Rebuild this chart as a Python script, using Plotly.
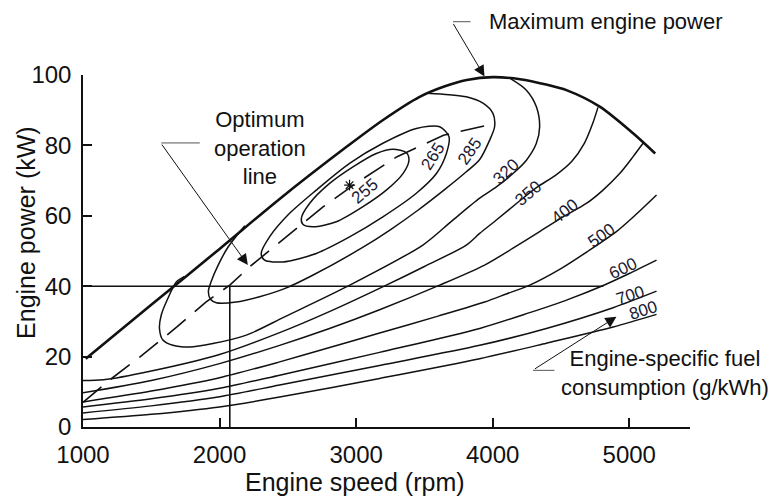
import plotly.graph_objects as go

# ---------------- data (engine speed in rpm, engine power in kW) ----------------
mp_rpm = [1020, 1500, 2000, 2440, 2930, 3200, 3465, 3650, 3810, 4000, 4200, 4400, 4540, 4784, 5026, 5190]
mp_kw = [19.4, 34.7, 50.6, 64.8, 79.6, 87.3, 93.8, 96.8, 98.6, 99.4, 98.8, 97.2, 95.7, 91.0, 83.5, 77.7]

c255_rpm = [2599, 2659, 2806, 2977, 3148, 3270, 3368, 3387, 3343, 3221, 3050, 2855, 2684, 2610, 2599]
c255_kw = [59.3, 63.5, 69.2, 73.9, 77.7, 78.9, 77.9, 75.8, 72.0, 67.3, 62.6, 58.3, 56.9, 57.6, 59.3]

c265_rpm = [2305, 2366, 2513, 2708, 2952, 3196, 3441, 3612, 3680, 3661, 3588, 3441, 3196, 2952, 2708, 2464, 2330, 2305]
c265_kw = [49.3, 54.0, 60.7, 67.3, 74.9, 80.6, 84.8, 85.3, 82.5, 77.7, 72.0, 66.4, 59.7, 54.0, 49.3, 46.9, 47.4, 49.3]

c285_rpm = [2185, 2130, 2060, 1990, 1940, 1918, 1935, 1976, 2122, 2293, 2476, 2682, 3048, 3250, 3450, 3650, 3807, 3905, 3978, 4014, 4002, 3929, 3807, 3680, 3520]
c285_kw = [57.2, 54.6, 51.0, 46.0, 41.5, 38.5, 36.2, 35.3, 35.5, 37.0, 39.3, 43.1, 51.0, 56.0, 61.5, 67.5, 72.5, 76.0, 81.5, 85.3, 89.1, 92.0, 93.8, 94.4, 94.8]

c320_rpm = [1743, 1683, 1621, 1573, 1560, 1585, 1658, 1780, 1951, 2196, 2476, 2928, 3489, 3700, 3905, 4027, 4149, 4247, 4320, 4344, 4320, 4247, 4125]
c320_kw = [42.8, 41.2, 36.5, 31.8, 28.0, 24.7, 23.2, 22.7, 23.7, 26.1, 31.3, 39.8, 51.7, 58.5, 65.0, 68.2, 72.0, 75.8, 80.6, 85.3, 91.0, 95.7, 99.1]

c350_rpm = [1000, 1150, 1500, 2000, 2440, 2800, 3221, 3500, 3807, 3905, 4027, 4174, 4320, 4460, 4580, 4670, 4735, 4771]
c350_kw = [13.2, 13.4, 15.9, 20.6, 26.8, 32.7, 40.3, 45.6, 51.7, 55.0, 58.8, 63.5, 68.0, 71.5, 75.5, 80.5, 86.5, 90.8]

c400_rpm = [1000, 1500, 2000, 2440, 2800, 3172, 3612, 3941, 4149, 4344, 4515, 4686, 4808, 4930, 5028, 5101]
c400_kw = [9.7, 13.2, 18.0, 23.2, 27.9, 33.3, 40.3, 46.0, 50.8, 55.5, 59.7, 63.5, 67.3, 72.0, 76.8, 80.6]

c500_rpm = [1000, 1500, 2000, 2440, 2800, 3172, 3600, 3941, 4100, 4271, 4500, 4700, 4906, 5053, 5200]
c500_kw = [7.1, 10.2, 14.0, 18.5, 22.5, 26.7, 31.5, 35.5, 37.8, 40.3, 45.0, 50.0, 55.5, 60.5, 65.9]

c600_rpm = [1000, 1500, 2000, 2440, 3172, 3905, 4271, 4550, 4810, 5000, 5200]
c600_kw = [5.7, 8.0, 11.0, 14.7, 21.2, 28.0, 32.5, 36.2, 40.2, 43.6, 47.4]

c700_rpm = [1000, 1500, 2000, 2440, 3172, 3905, 4393, 4882, 5200]
c700_kw = [4.0, 6.0, 8.6, 11.9, 17.5, 23.2, 28.0, 33.9, 38.6]

c800_rpm = [1000, 1500, 2000, 2440, 3172, 3905, 4393, 4882, 5200]
c800_kw = [2.1, 3.6, 5.7, 8.5, 13.8, 19.4, 23.8, 28.4, 32.0]

opt_rpm = [1000, 1200, 1420, 1690, 1900, 2075, 2220, 2490, 2760, 2990, 3300, 3640, 3970]
opt_kw = [7.0, 13.5, 20.0, 28.5, 35.5, 40.3, 45.5, 54.0, 62.6, 69.0, 76.8, 82.9, 85.8]

best_rpm = [2952]
best_kw = [68.7]

ref_speed = 2075
ref_power = 40
ref_speed_end = 4810

label_text = ["255", "265", "285", "320", "350", "400", "500", "600", "700", "800"]
label_rpm = [3062, 3563, 3832, 4100, 4259, 4528, 4796, 4955, 5004, 5101]
label_kw = [66.8, 76.8, 78.2, 72.5, 66.4, 61.1, 54.5, 45.0, 37.4, 33.2]
label_angle = [-40, -58, -55, -43, -40, -38, -35, -25, -18, -18]

x_ticks = [1000, 2000, 3000, 4000, 5000]
y_ticks = [0, 20, 40, 60, 80, 100]

FONT = "Liberation Sans, Arial, Helvetica, sans-serif"
INK = "#111111"

fig = go.Figure()


def add_curve(x, y, width=1.5, shape="spline"):
    fig.add_trace(go.Scatter(
        x=x, y=y, mode="lines",
        line=dict(color=INK, width=width, shape=shape, smoothing=0.8 if shape == "spline" else None),
        hoverinfo="skip", showlegend=False))


for xs, ys in [(c255_rpm, c255_kw), (c265_rpm, c265_kw), (c285_rpm, c285_kw),
               (c320_rpm, c320_kw), (c350_rpm, c350_kw), (c400_rpm, c400_kw),
               (c500_rpm, c500_kw), (c600_rpm, c600_kw), (c700_rpm, c700_kw),
               (c800_rpm, c800_kw)]:
    add_curve(xs, ys)

add_curve(mp_rpm, mp_kw, width=2.6)

# reference lines
add_curve([1000, ref_speed_end], [ref_power, ref_power], width=1.6, shape="linear")
add_curve([ref_speed, ref_speed], [0, ref_power], width=1.6, shape="linear")

# optimum operation line (dashed)
fig.add_trace(go.Scatter(
    x=opt_rpm, y=opt_kw, mode="lines",
    line=dict(color=INK, width=1.6, dash="24px,12px"),
    hoverinfo="skip", showlegend=False))

fig.add_trace(go.Scatter(
    x=best_rpm, y=best_kw, mode="markers",
    marker=dict(symbol="asterisk-open", size=9, color=INK, line=dict(color=INK, width=1.2)),
    hoverinfo="skip", showlegend=False))

annotations = []
for t, xv, yv, a in zip(label_text, label_rpm, label_kw, label_angle):
    annotations.append(dict(x=xv, y=yv, xref="x", yref="y", text=t, showarrow=False,
                            textangle=a, font=dict(family=FONT, size=17, color="#1a1a33")))

LEAD = "#555555"
# Maximum engine power
annotations.append(dict(x=0.6656, y=1.1514, xref="paper", yref="paper", text="Maximum engine power",
                        xanchor="left", yanchor="middle", showarrow=False,
                        font=dict(family=FONT, size=22, color=INK)))
annotations.append(dict(x=3940, y=99.6, xref="x", yref="y", text="", showarrow=True,
                        ax=-32, ay=-54, arrowhead=2, arrowsize=2.2, arrowwidth=1, arrowcolor=INK,
                        standoff=0))
annotations.append(dict(x=0.6096, y=1.1514, xref="paper", yref="paper", text="", showarrow=True,
                        ax=19, ay=0, arrowhead=0, arrowwidth=1, arrowcolor=LEAD))
# Optimum operation line
annotations.append(dict(x=0.2916, y=0.7932, xref="paper", yref="paper",
                        text="Optimum<br>operation<br>line", showarrow=False,
                        xanchor="center", yanchor="middle",
                        font=dict(family=FONT, size=22, color=INK)))
annotations.append(dict(x=2207, y=46.0, xref="x", yref="y", text="", showarrow=True,
                        ax=-87, ay=-122, arrowhead=2, arrowsize=2.2, arrowwidth=1, arrowcolor=INK,
                        standoff=0))
annotations.append(dict(x=1573, y=80.7, xref="x", yref="y", text="", showarrow=True,
                        ax=40, ay=0, arrowhead=0, arrowwidth=1, arrowcolor=LEAD))
# Engine-specific fuel consumption
annotations.append(dict(x=0.9588, y=0.1526, xref="paper", yref="paper",
                        text="Engine-specific fuel<br>consumption (g/kWh)", showarrow=False,
                        xanchor="center", yanchor="middle",
                        font=dict(family=FONT, size=22, color=INK)))
annotations.append(dict(x=4906, y=31.3, xref="x", yref="y", text="", showarrow=True,
                        ax=-83, ay=53, arrowhead=2, arrowsize=2.2, arrowwidth=1, arrowcolor=INK,
                        standoff=0))
annotations.append(dict(x=4295, y=16.1, xref="x", yref="y", text="", showarrow=True,
                        ax=23, ay=0, arrowhead=0, arrowwidth=1, arrowcolor=LEAD))
# axis titles
annotations.append(dict(x=0.448, y=-0.156, xref="paper", yref="paper", text="Engine speed (rpm)",
                        showarrow=False, xanchor="center", yanchor="middle",
                        font=dict(family=FONT, size=25, color=INK)))
annotations.append(dict(x=-0.094, y=0.554, xref="paper", yref="paper", text="Engine power (kW)",
                        showarrow=False, xanchor="center", yanchor="middle", textangle=-90,
                        font=dict(family=FONT, size=25, color=INK)))

axis_common = dict(ticks="inside", ticklen=9, tickwidth=1.5, tickcolor=INK,
                   showline=True, linewidth=1.5, linecolor=INK, showgrid=False, zeroline=False,
                   tickfont=dict(family=FONT, size=24, color=INK), ticklabelstandoff=5)

fig.update_layout(
    width=772, height=497,
    margin=dict(l=83, r=82, t=75, b=70),
    paper_bgcolor="white", plot_bgcolor="white",
    xaxis=dict(range=[1000, 5445], tickvals=x_ticks, **axis_common),
    yaxis=dict(range=[0, 100], tickvals=y_ticks, **axis_common),
    annotations=annotations,
    showlegend=False,
)

fig.write_html("out.html")
